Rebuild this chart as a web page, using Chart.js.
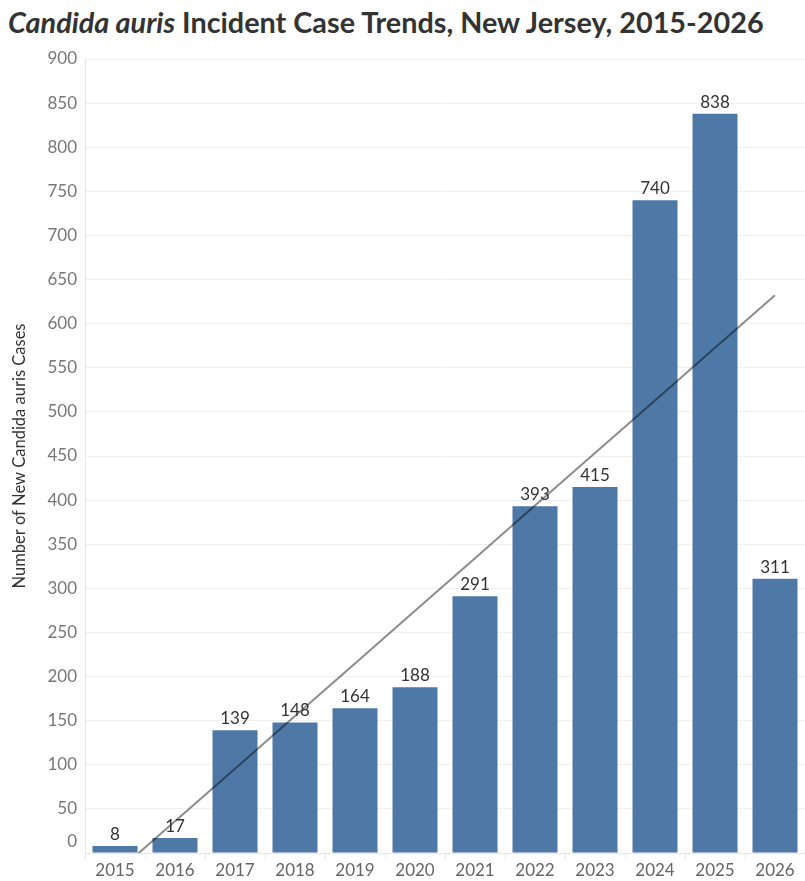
<!DOCTYPE html>
<html>
<head>
<meta charset="utf-8">
<script src="https://cdn.jsdelivr.net/npm/chart.js@4.4.1/dist/chart.umd.min.js"></script>
<style>
  html, body { margin: 0; padding: 0; background: #fff; }
  #wrap { position: relative; width: 805px; height: 881px; }
  #title {
    position: absolute; left: 8px; top: 5px;
    font-family: Lato, sans-serif; font-weight: bold; font-size: 28.8px;
    color: #333; white-space: nowrap;
  }
  canvas { position: absolute; left: 0; top: 0; }
</style>
</head>
<body>
<div id="wrap">
  <div id="title"><i>Candida auris</i> Incident Case Trends, New Jersey, 2015-2026</div>
  <canvas id="barChart" width="805" height="881"></canvas>
</div>
<script>
// datos
var years = ['2015', '2016', '2017', '2018', '2019', '2020', '2021', '2022', '2023', '2024', '2025', '2026'];
var cases = [8, 17, 139, 148, 164, 188, 291, 393, 415, 740, 838, 311];
var yMin = 0;
var yMax = 900;
var yStep = 50;

// linea de tendencia (minimos cuadrados sobre los casos)
function tendencia(vals) {
  var n = vals.length;
  var mx = (n - 1) / 2;
  var my = vals.reduce(function(a, b) { return a + b; }, 0) / n;
  var sxy = 0, sxx = 0;
  for (var i = 0; i < n; i++) {
    sxy += (i - mx) * (vals[i] - my);
    sxx += (i - mx) * (i - mx);
  }
  var m = sxy / sxx;
  return vals.map(function(v, i) { return my + m * (i - mx); });
}

var etiquetas = {
  id: 'etiquetas',
  afterDatasetsDraw: function(chart) {
    var ctx = chart.ctx;
    var meta = chart.getDatasetMeta(1);
    ctx.save();
    ctx.font = '17px Lato, sans-serif';
    ctx.fillStyle = '#333';
    ctx.textAlign = 'center';
    ctx.textBaseline = 'bottom';
    meta.data.forEach(function(bar, i) {
      ctx.fillText(cases[i], bar.x, bar.y - 3);
    });
    // el "0" del eje va un poco más arriba, como en el original
    var y = chart.scales.y;
    ctx.font = '17px Lato, sans-serif';
    ctx.fillStyle = '#777';
    ctx.textAlign = 'right';
    ctx.textBaseline = 'middle';
    ctx.fillText(String(yMin), y.right - 8, y.getPixelForValue(yMin) - 11);
    ctx.restore();
  }
};

const CHART = document.getElementById('barChart');

let barChart = new Chart(CHART, {
  data: {
    labels: years,
    datasets: [
      {
        type: 'line',
        label: 'Tendencia',
        data: tendencia(cases),
        borderColor: 'rgba(0,0,0,0.45)',
        borderWidth: 2,
        pointRadius: 0,
        fill: false,
        order: 0
      },
      {
        type: 'bar',
        label: 'Casos',
        data: cases,
        backgroundColor: '#4e79a7',
        barPercentage: 0.75,
        categoryPercentage: 1.0,
        order: 1
      }
    ]
  },
  options: {
    responsive: false,
    animation: false,
    layout: { padding: { top: 59, right: 0, bottom: 0, left: 10 } },
    plugins: {
      legend: { display: false },
      tooltip: { enabled: false }
    },
    scales: {
      x: {
        offset: true,
        grid: {
          offset: true,
          drawOnChartArea: false,
          drawTicks: true,
          tickLength: 6,
          color: '#e6e6e6'
        },
        border: { color: '#e6e6e6' },
        ticks: {
          color: '#666',
          font: { family: 'Lato, sans-serif', size: 17 },
          padding: 1,
          maxRotation: 0
        },
        afterFit: function(scale) { scale.height = 28; }
      },
      y: {
        min: yMin,
        max: yMax,
        grid: { color: '#f0f0f0', drawTicks: false },
        border: { color: '#e6e6e6' },
        ticks: {
          stepSize: yStep,
          color: '#777',
          font: { family: 'Lato, sans-serif', size: 17 },
          padding: 8,
          callback: function(v) { return v === yMin ? '' : v; }
        },
        title: {
          display: true,
          text: 'Number of New Candida auris Cases',
          color: '#333',
          font: { family: 'Lato, sans-serif', size: 16.5 },
          padding: 0
        },
        afterFit: function(scale) { scale.width = 75; }
      }
    }
  },
  plugins: [etiquetas]
});
</script>
</body>
</html>
